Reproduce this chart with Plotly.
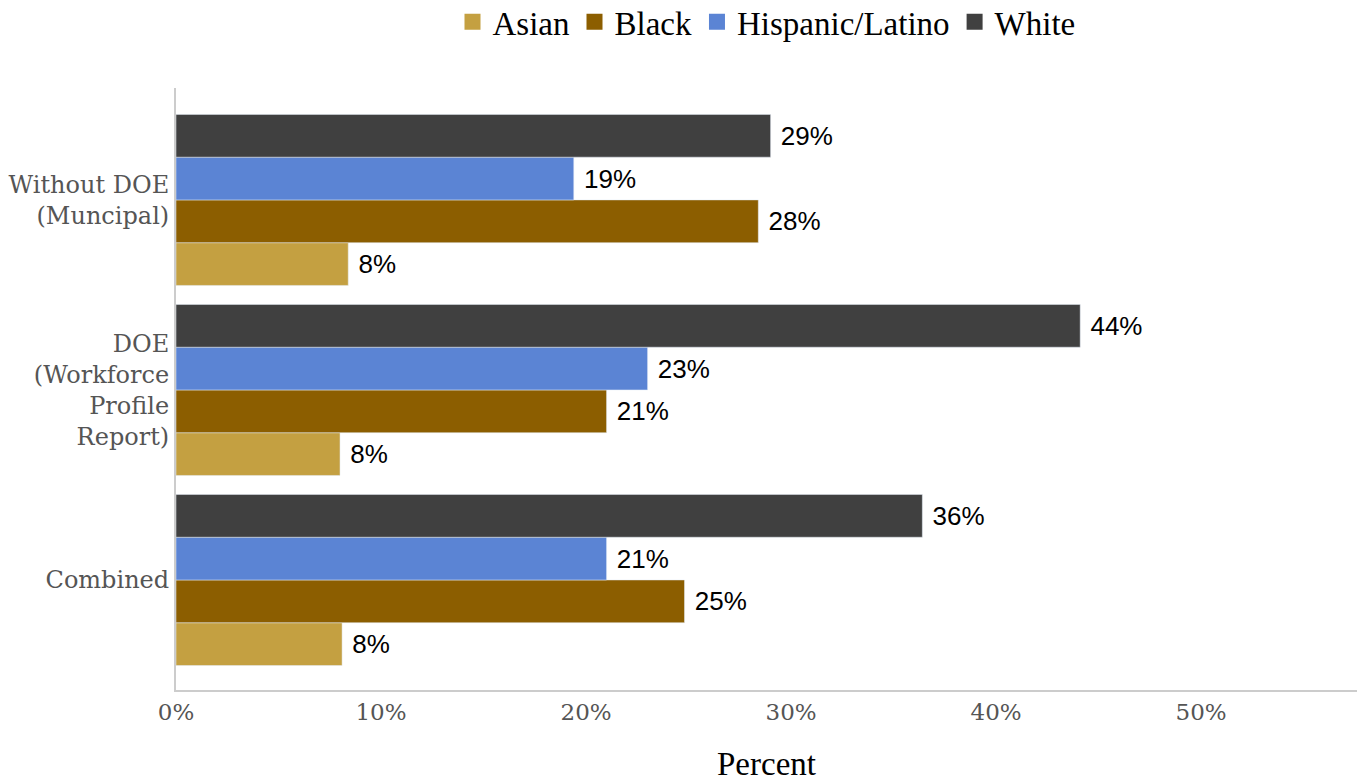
import plotly.graph_objects as go

categories = ["Without DOE<br>(Muncipal)", "DOE<br>(Workforce<br>Profile<br>Report)", "Combined"]
series = ["Asian", "Black", "Hispanic/Latino", "White"]
colors = ["#C4A041", "#8C5E00", "#5B84D4", "#404040"]
values = {
    "Asian": [8.4, 8.0, 8.1],
    "Black": [28.4, 21.0, 24.8],
    "Hispanic/Latino": [19.4, 23.0, 21.0],
    "White": [29.0, 44.1, 36.4],
}

serif = "Georgia, 'DejaVu Serif', serif"
fig = go.Figure()
for s, c in zip(series, colors):
    v = values[s]
    fig.add_trace(go.Bar(
        y=categories, x=v, orientation="h", name=s, marker_color=c,
        text=[f" {round(x)}%" for x in v], textposition="outside",
        textfont=dict(family="Liberation Sans, Arial, sans-serif", size=26, color="black"),
        cliponaxis=False, showlegend=False,
    ))
    fig.add_trace(go.Scatter(
        x=[None], y=[None], mode="markers", name=s,
        marker=dict(symbol="square", size=40, color=c), showlegend=True,
    ))

fig.update_layout(
    width=1360, height=783,
    paper_bgcolor="white", plot_bgcolor="white",
    margin=dict(l=176, r=3, t=88, b=93, autoexpand=False),
    barmode="group", bargap=0.1, bargroupgap=0,
    legend=dict(orientation="h", x=0.5, xanchor="center", y=1.11, yanchor="middle",
                font=dict(family="'Liberation Serif', 'Times New Roman', serif", size=33, color="black"),
                itemsizing="trace", traceorder="normal"),
    xaxis=dict(range=[0, 57.6], tickvals=[0, 10, 20, 30, 40, 50],
               ticktext=["0%", "10%", "20%", "30%", "40%", "50%"],
               showgrid=False, zeroline=False, showline=True, linecolor="#cccccc", linewidth=2,
               ticks="", tickfont=dict(family=serif, size=23, color="#555555"),
               title=dict(text="Percent", standoff=28,
                          font=dict(family="'Liberation Serif', 'Times New Roman', serif", size=33, color="black"))),
    yaxis=dict(categoryorder="array", categoryarray=categories[::-1],
               range=[-0.579, 2.589], showgrid=False, zeroline=False,
               showline=True, linecolor="#cccccc", linewidth=2, ticks="",
               tickfont=dict(family=serif, size=24, color="#555555")),
)
fig.write_html("out.html")
